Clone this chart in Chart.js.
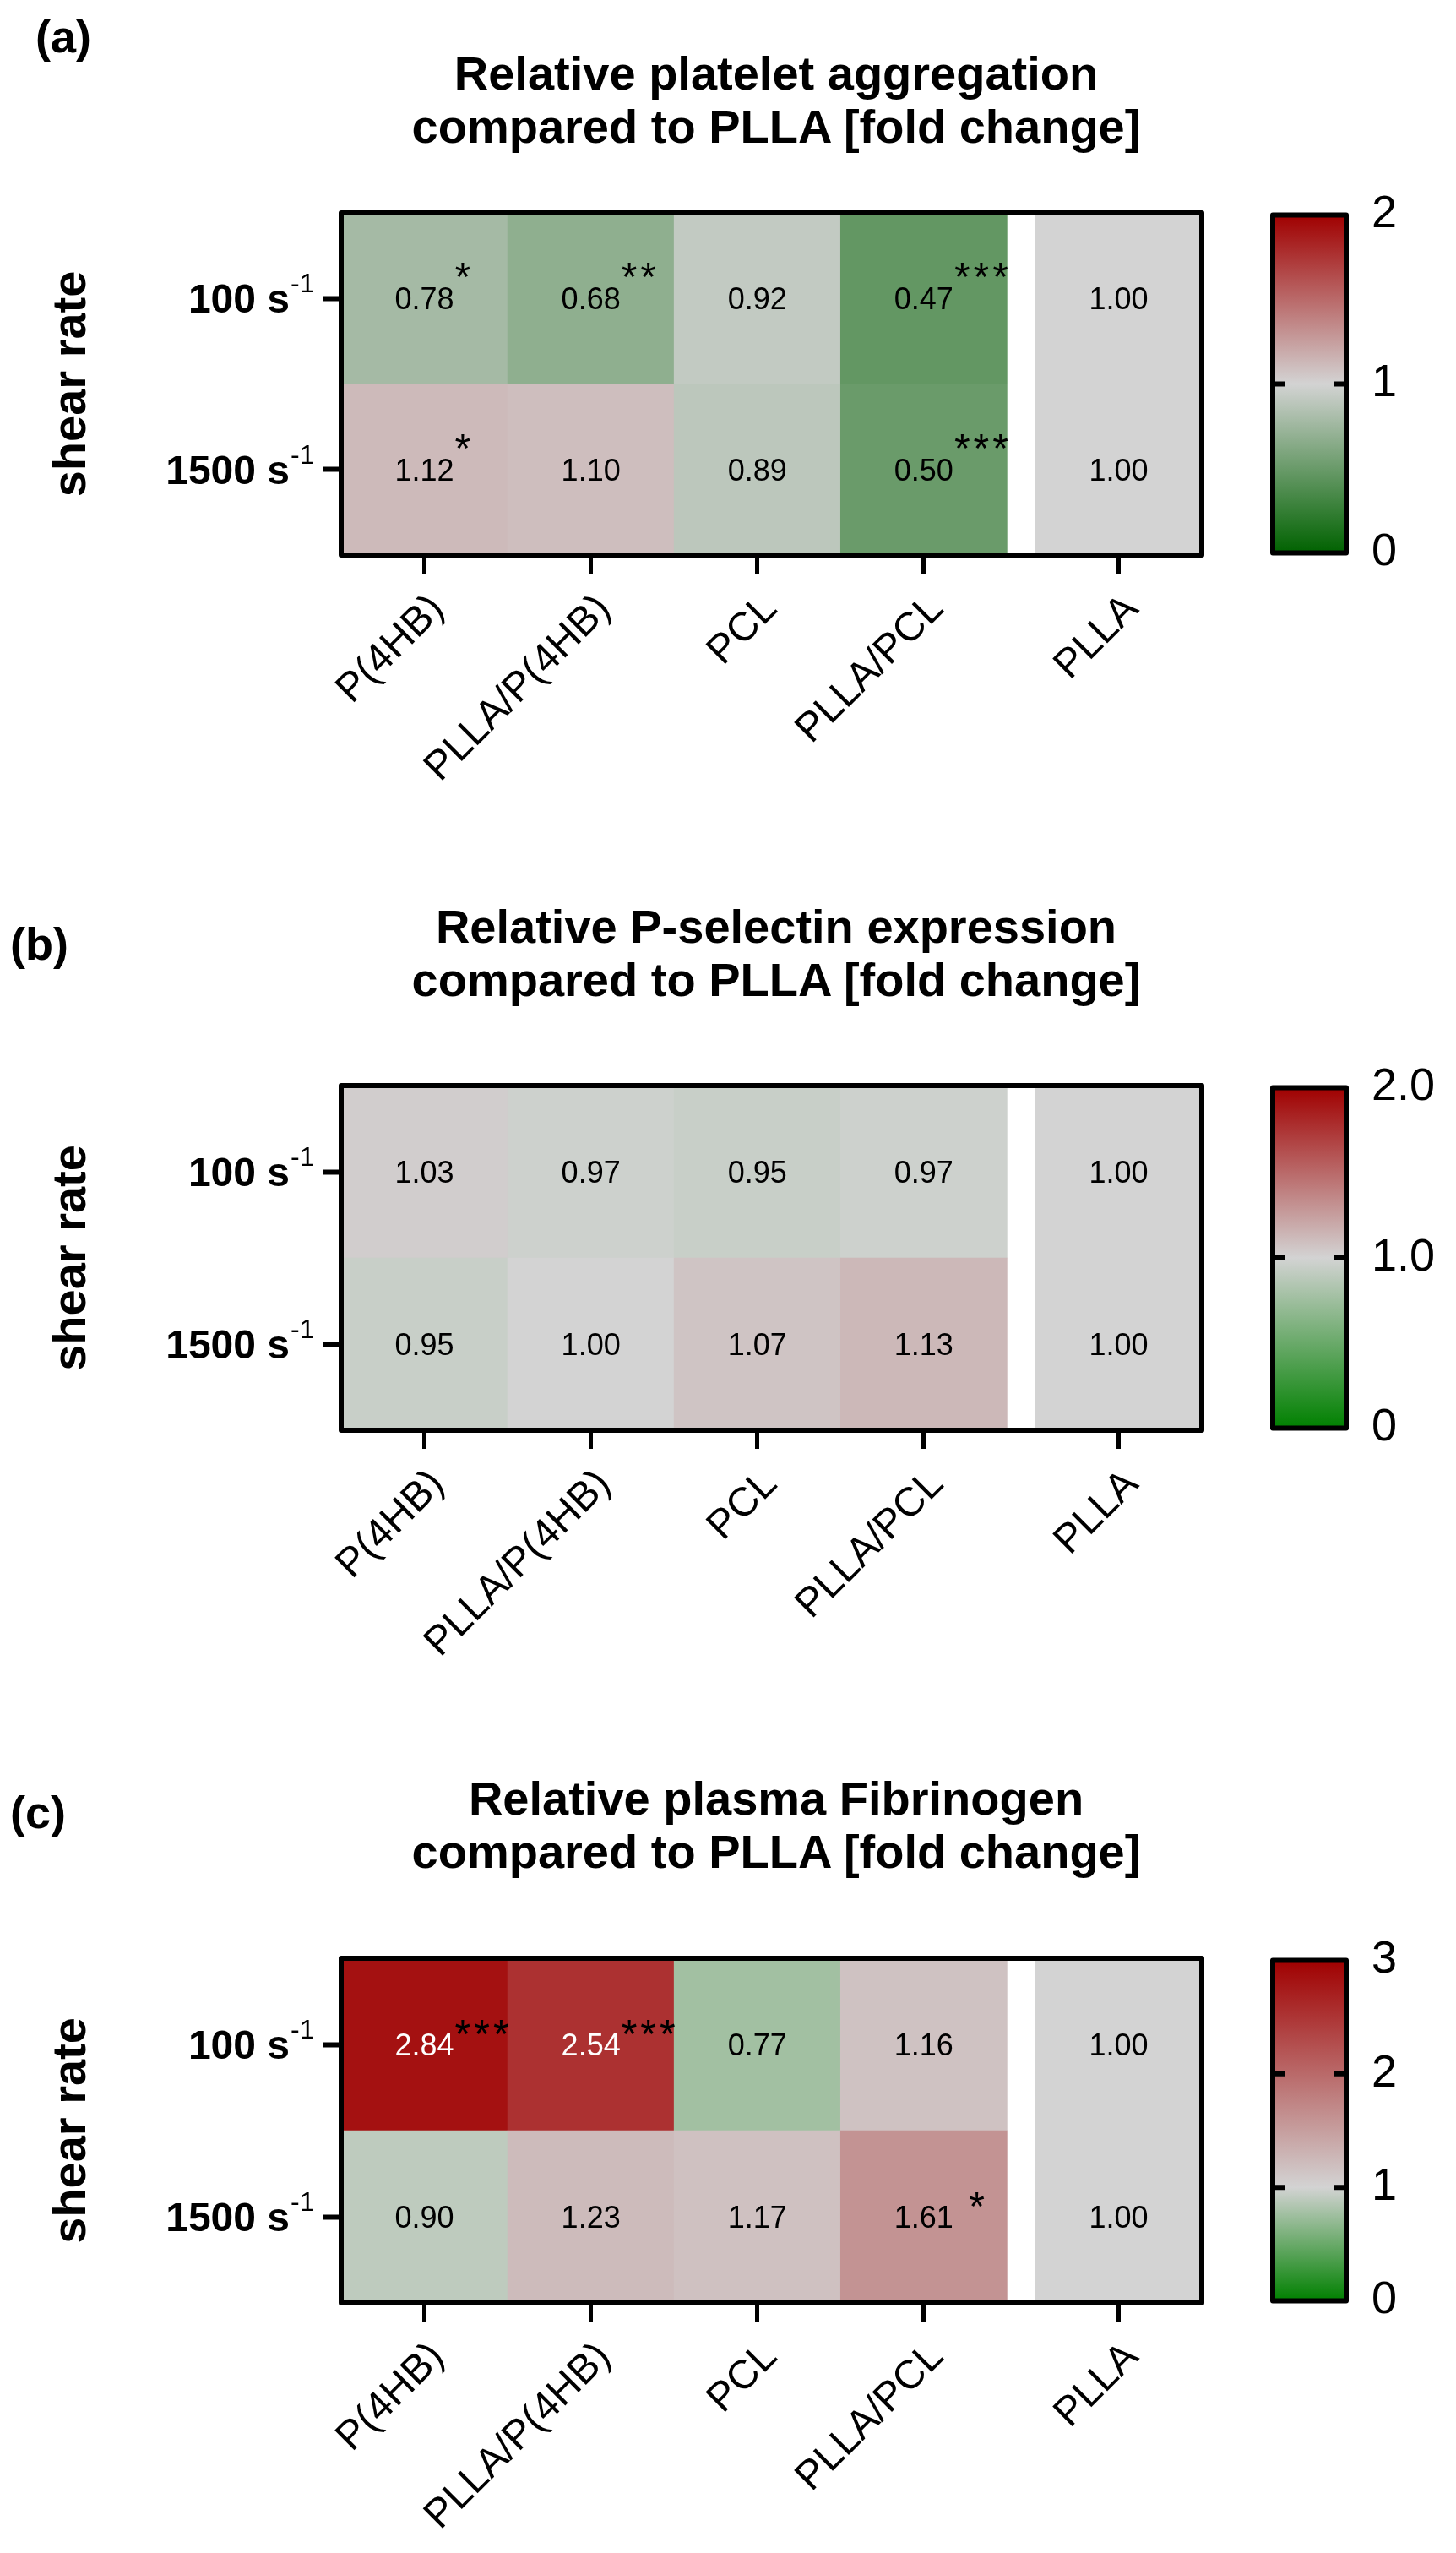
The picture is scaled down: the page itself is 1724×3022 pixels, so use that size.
<!DOCTYPE html>
<html>
<head>
<meta charset="utf-8">
<script src="https://cdn.jsdelivr.net/npm/chart.js@4.4.1/dist/chart.umd.min.js"></script>
<style>
html,body{margin:0;padding:0;background:#fff;}
body{width:1724px;height:3022px;position:relative;overflow:hidden;font-family:"Liberation Sans",Arial,sans-serif;color:#000;}
canvas{position:absolute;}
.plab{position:absolute;font-weight:bold;font-size:54px;line-height:64px;white-space:nowrap;}
.title{position:absolute;text-align:center;font-weight:bold;font-size:56px;line-height:63px;white-space:nowrap;}
</style>
</head>
<body>
<script>
// ---------------- DATA ----------------
const materials = ['P(4HB)', 'PLLA/P(4HB)', 'PCL', 'PLLA/PCL', 'PLLA'];
const shearRates = ['1500', '100'];          // bottom row first, top row second
const shearUnit = 's';
const shearUnitExp = '-1';
const yAxisTitle = 'shear rate';

// (a) platelet aggregation
const aggrTitle = ['Relative platelet aggregation', 'compared to PLLA [fold change]'];
const aggr100  = [0.78, 0.68, 0.92, 0.47, 1.00];
const aggr1500 = [1.12, 1.10, 0.89, 0.50, 1.00];
const aggrSig100  = ['*', '**', '', '***', ''];
const aggrSig1500 = ['*', '', '', '***', ''];
const aggrScaleTicks  = [0, 1, 2];
const aggrScaleLabels = ['0', '1', '2'];

// (b) P-selectin expression
const pselTitle = ['Relative P-selectin expression', 'compared to PLLA [fold change]'];
const psel100  = [1.03, 0.97, 0.95, 0.97, 1.00];
const psel1500 = [0.95, 1.00, 1.07, 1.13, 1.00];
const pselSig100  = ['', '', '', '', ''];
const pselSig1500 = ['', '', '', '', ''];
const pselScaleTicks  = [0, 1, 2];
const pselScaleLabels = ['0', '1.0', '2.0'];

// (c) plasma fibrinogen
const fibTitle = ['Relative plasma Fibrinogen', 'compared to PLLA [fold change]'];
const fib100  = [2.84, 2.54, 0.77, 1.16, 1.00];
const fib1500 = [0.90, 1.23, 1.17, 1.61, 1.00];
const fibSig100  = ['***', '***', '', '', ''];
const fibSig1500 = ['', '', '', ' *', ''];
const fibScaleTicks  = [0, 1, 2, 3];
const fibScaleLabels = ['0', '1', '2', '3'];

// ---------------- LAYOUT / STYLE ----------------
const FONT = '"Liberation Sans", Arial, sans-serif';
Chart.defaults.font.family = FONT;
Chart.defaults.color = '#000';

const frameLeft = 404, frameRight = 1423;
const cbLeft = 1507, cbRight = 1594;
const colGap = 0.17;           // white gap before the reference column, in column widths
const gapBeforeIndex = 4;
const PAD_TOP = 60, XAXIS_H = 330, CB_PAD = 60, CB_AXIS_W = 130;
const midColor = [211, 211, 211];
const highColor = [160, 0, 0];

const panels = [
  { tag: '(a)', labelX: 42, labelY: 48, titleY: 85, frameTop: 252, frameBottom: 657, starRise: 37,
    title: aggrTitle, top: aggr100, bottom: aggr1500, sigTop: aggrSig100, sigBottom: aggrSig1500,
    max: 2, ticks: aggrScaleTicks, tickLabels: aggrScaleLabels, low: [0, 98, 0] },
  { tag: '(b)', labelX: 12, labelY: 1122, titleY: 1095, frameTop: 1285, frameBottom: 1693, starRise: 37,
    title: pselTitle, top: psel100, bottom: psel1500, sigTop: pselSig100, sigBottom: pselSig1500,
    max: 2, ticks: pselScaleTicks, tickLabels: pselScaleLabels, low: [0, 128, 0] },
  { tag: '(c)', labelX: 12, labelY: 2150, titleY: 2127, frameTop: 2318, frameBottom: 2726, starRise: 24,
    title: fibTitle, top: fib100, bottom: fib1500, sigTop: fibSig100, sigBottom: fibSig1500,
    max: 3, ticks: fibScaleTicks, tickLabels: fibScaleLabels, low: [0, 128, 0] }
];

function colPos(i) { return i + (i >= gapBeforeIndex ? colGap : 0); }
function rgb(c) { return 'rgb(' + c.map(v => Math.round(v)).join(',') + ')'; }
function colormap(p) {
  return v => {
    let a, b, t;
    if (v <= 1) { a = p.low; b = midColor; t = v; }
    else { a = midColor; b = highColor; t = (v - 1) / (p.max - 1); }
    t = Math.max(0, Math.min(1, t));
    return [0, 1, 2].map(k => a[k] + (b[k] - a[k]) * t);
  };
}
function lum(c) { return (0.299 * c[0] + 0.587 * c[1] + 0.114 * c[2]) / 255; }

function addCanvas(left, top, w, h) {
  const c = document.createElement('canvas');
  c.width = w; c.height = h;
  c.style.left = left + 'px'; c.style.top = top + 'px';
  c.style.width = w + 'px'; c.style.height = h + 'px';
  document.body.appendChild(c);
  return c;
}
function addDiv(cls, text, styles) {
  const d = document.createElement('div');
  d.className = cls;
  d.innerHTML = text;
  Object.assign(d.style, styles);
  document.body.appendChild(d);
  return d;
}

panels.forEach(p => {
  // panel tag & title (real HTML text)
  addDiv('plab', p.tag, { left: p.labelX + 'px', top: (p.labelY - 37) + 'px' });
  addDiv('title', p.title.join('<br>'), { left: '419px', width: '1000px', top: (p.titleY - 30) + 'px' });

  const cm = colormap(p);
  const frameH = p.frameBottom - p.frameTop;

  // ---------- heat map ----------
  const hw = frameRight + 20, hh = PAD_TOP + frameH + XAXIS_H;
  const hc = addCanvas(0, p.frameTop - PAD_TOP, hw, hh);
  const rows = [
    { vals: p.bottom, sig: p.sigBottom, label: shearRates[0] },
    { vals: p.top, sig: p.sigTop, label: shearRates[1] }
  ];
  const heatPlugin = {
    id: 'heatText',
    afterDatasetsDraw(chart) {
      const ctx = chart.ctx, area = chart.chartArea;
      ctx.save();
      chart.data.datasets.forEach((ds, di) => {
        const meta = chart.getDatasetMeta(di);
        meta.data.forEach((el, i) => {
          const v = ds.values[i];
          const cy = (el.y + el.base) / 2;
          const col = cm(v);
          ctx.fillStyle = lum(col) < 0.38 ? '#fff' : '#000';
          ctx.font = '36px ' + FONT;
          ctx.textAlign = 'center';
          ctx.textBaseline = 'alphabetic';
          const txt = v.toFixed(2);
          ctx.fillText(txt, el.x, cy + 13);
          const s = ds.sig[i];
          if (s) {
            const tw = ctx.measureText(txt).width;
            ctx.fillStyle = '#000';
            ctx.font = '48px ' + FONT;
            ctx.letterSpacing = '4px';
            ctx.textAlign = 'left';
            ctx.fillText(s, el.x + tw / 2 + 1, cy - p.starRise + 28);
            ctx.letterSpacing = '0px';
          }
        });
        // row label with superscript unit
        const el0 = meta.data[0];
        const cy = (el0.y + el0.base) / 2;
        ctx.fillStyle = '#000';
        ctx.font = 'bold 48px ' + FONT;
        ctx.textAlign = 'right';
        ctx.fillText(ds.label + ' ' + shearUnit, 343, cy + 17);
        ctx.font = '32px ' + FONT;
        ctx.textAlign = 'left';
        ctx.fillText(shearUnitExp, 344, cy - 7);
      });
      // frame
      ctx.lineWidth = 6;
      ctx.lineJoin = 'round';
      ctx.strokeStyle = '#000';
      ctx.strokeRect(area.left, area.top, area.right - area.left, area.bottom - area.top);
      // y-axis title
      ctx.translate(101, (area.top + area.bottom) / 2);
      ctx.rotate(-Math.PI / 2);
      ctx.font = 'bold 56px ' + FONT;
      ctx.textAlign = 'center';
      ctx.textBaseline = 'alphabetic';
      ctx.fillStyle = '#000';
      ctx.fillText(yAxisTitle, 0, 0);
      ctx.restore();
    }
  };
  new Chart(hc, {
    type: 'bar',
    data: {
      datasets: rows.map(r => ({
        label: r.label,
        values: r.vals,
        sig: r.sig,
        data: r.vals.map((v, i) => ({ x: colPos(i), y: 1 })),
        backgroundColor: r.vals.map(v => rgb(cm(v))),
        borderWidth: 0,
        categoryPercentage: 1,
        barPercentage: 1
      }))
    },
    options: {
      responsive: false, animation: false, devicePixelRatio: 1, events: [],
      layout: { padding: { top: PAD_TOP, right: hw - frameRight, left: 0, bottom: 0 } },
      plugins: { legend: { display: false }, tooltip: { enabled: false } },
      scales: {
        x: {
          type: 'linear', min: -0.5, max: colPos(materials.length - 1) + 0.5,
          offset: false, stacked: true,
          afterBuildTicks: s => { s.ticks = materials.map((m, i) => ({ value: colPos(i) })); },
          afterFit: s => { s.height = XAXIS_H; },
          ticks: { autoSkip: false, minRotation: 45, maxRotation: 45, padding: 14, labelOffset: 16,
                   font: { size: 48 }, color: '#000',
                   callback: (v, i) => materials[i] },
          grid: { display: true, offset: false, drawOnChartArea: false, drawTicks: true,
                  tickLength: 22, tickWidth: 5, tickColor: '#000' },
          border: { display: false }
        },
        y: {
          type: 'linear', min: 0, max: 2, stacked: true,
          afterBuildTicks: s => { s.ticks = [{ value: 0.5 }, { value: 1.5 }]; },
          afterFit: s => { s.width = frameLeft; },
          ticks: { display: false },
          grid: { display: true, drawOnChartArea: false, drawTicks: true,
                  tickLength: 22, tickWidth: 6, tickColor: '#000' },
          border: { display: false }
        }
      }
    },
    plugins: [heatPlugin]
  });

  // ---------- colour bar ----------
  const cLeft = cbLeft - 30;
  const cw = 30 + (cbRight - cbLeft) + CB_AXIS_W, ch = CB_PAD + frameH + CB_PAD;
  const cc = addCanvas(cLeft, p.frameTop - CB_PAD, cw, ch);
  const cbPlugin = {
    id: 'cbFrame',
    afterDatasetsDraw(chart) {
      const ctx = chart.ctx, a = chart.chartArea, ys = chart.scales.y;
      ctx.save();
      ctx.strokeStyle = '#000';
      ctx.lineWidth = 6;
      ys.ticks.forEach(t => {
        if (t.value <= ys.min || t.value >= ys.max) return;
        const y = ys.getPixelForValue(t.value);
        ctx.beginPath();
        ctx.moveTo(a.left, y); ctx.lineTo(a.left + 15, y);
        ctx.moveTo(a.right - 15, y); ctx.lineTo(a.right, y);
        ctx.stroke();
      });
      ctx.lineJoin = 'round';
      ctx.strokeRect(a.left, a.top, a.right - a.left, a.bottom - a.top);
      ctx.restore();
    }
  };
  new Chart(cc, {
    type: 'bar',
    data: {
      labels: [''],
      datasets: [{
        data: [p.max],
        borderWidth: 0,
        categoryPercentage: 1, barPercentage: 1,
        backgroundColor: (c) => {
          const a = c.chart.chartArea;
          if (!a) return rgb(midColor);
          const g = c.chart.ctx.createLinearGradient(0, a.bottom, 0, a.top);
          g.addColorStop(0, rgb(p.low));
          g.addColorStop(1 / p.max, rgb(midColor));
          g.addColorStop(1, rgb(highColor));
          return g;
        }
      }]
    },
    options: {
      responsive: false, animation: false, devicePixelRatio: 1, events: [],
      layout: { padding: { top: CB_PAD, bottom: CB_PAD, left: 30, right: 0 } },
      plugins: { legend: { display: false }, tooltip: { enabled: false } },
      scales: {
        x: { display: false },
        y: {
          position: 'right', min: 0, max: p.max,
          afterBuildTicks: s => { s.ticks = p.ticks.map(v => ({ value: v })); },
          afterFit: s => { s.width = CB_AXIS_W; },
          ticks: { padding: 30, font: { size: 54 }, color: '#000',
                   callback: (v, i) => p.tickLabels[i] },
          grid: { display: false, drawTicks: false },
          border: { display: false }
        }
      }
    },
    plugins: [cbPlugin]
  });
});
</script>
</body>
</html>
